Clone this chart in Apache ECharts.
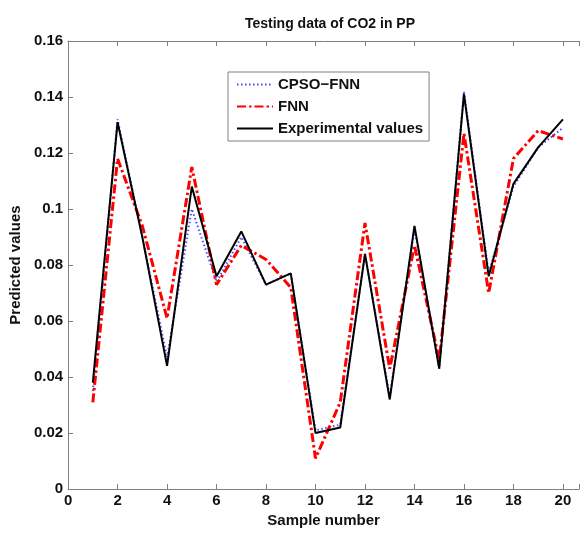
<!DOCTYPE html>
<html>
<head>
<meta charset="utf-8">
<script src="https://cdn.jsdelivr.net/npm/echarts@6/dist/echarts.min.js"></script>
<style>
html,body{margin:0;padding:0;background:#fff;}
#chart{width:582px;height:533px;}
</style>
</head>
<body>
<div id="chart"></div>
<script>
var samples = [1,2,3,4,5,6,7,8,9,10,11,12,13,14,15,16,17,18,19,20];
var cpsoFnn = [0.035,0.132,0.090,0.047,0.100,0.074,0.090,0.073,0.077,0.021,0.023,0.084,0.033,0.093,0.043,0.142,0.077,0.108,0.122,0.129];
var fnn = [0.031,0.118,0.094,0.061,0.115,0.073,0.087,0.082,0.072,0.011,0.031,0.095,0.043,0.087,0.046,0.127,0.070,0.118,0.128,0.125];
var experimental = [0.038,0.131,0.090,0.044,0.108,0.076,0.092,0.073,0.077,0.020,0.022,0.084,0.032,0.094,0.043,0.141,0.076,0.109,0.122,0.132];
var seriesNames = ['CPSO\u2212FNN','FNN','Experimental values'];
var xTicks = [0,2,4,6,8,10,12,14,16,18,20];
var yTicks = [0,0.02,0.04,0.06,0.08,0.1,0.12,0.14,0.16];

function pairs(vals){ return samples.map(function(s,i){ return [s, vals[i]]; }); }

var font = '"Liberation Sans", Arial, Helvetica, sans-serif';
var axisColor = '#808080';
var chart = echarts.init(document.getElementById('chart'), null, {renderer:'canvas'});
chart.setOption({
  animation: false,
  backgroundColor: '#ffffff',
  title: {
    text: 'Testing data of CO2 in PP',
    left: 325, top: 12, textAlign: 'center',
    textStyle: {fontFamily: font, fontWeight: 'bold', fontSize: 14, color: '#111'}
  },
  legend: {
    orient: 'vertical', left: 228, top: 72,
    padding: [5, 6, 5, 8], itemGap: 7, itemWidth: 36, itemHeight: 14,
    backgroundColor: '#fff', borderColor: '#808080', borderWidth: 1,
    itemStyle: {opacity: 0},
    textStyle: {fontFamily: font, fontWeight: 'bold', fontSize: 15, color: '#111'},
    data: seriesNames
  },
  grid: {left: 68, top: 41, right: 0, bottom: 36, containLabel: false},
  xAxis: [{
    type: 'value', min: 0, max: 20.65, interval: 2, position: 'bottom',
    name: 'Sample number', nameLocation: 'middle', nameGap: 19,
    nameTextStyle: {fontFamily: font, fontWeight: 'bold', fontSize: 15, color: '#111'},
    axisLine: {show: true, onZero: false, lineStyle: {color: axisColor, width: 1}},
    axisTick: {show: true, inside: true, length: 5, lineStyle: {color: axisColor}},
    axisLabel: {margin: 4, fontFamily: font, fontWeight: 'bold', fontSize: 15, color: '#111',
      formatter: function(v){ return xTicks.indexOf(Math.round(v*1000)/1000) >= 0 ? String(v) : ''; }},
    splitLine: {show: false}
  },{
    type: 'value', min: 0, max: 20.65, interval: 2, position: 'top',
    axisLine: {show: true, onZero: false, lineStyle: {color: axisColor, width: 1}},
    axisTick: {show: true, inside: true, length: 5, lineStyle: {color: axisColor}},
    axisLabel: {show: false}, splitLine: {show: false}
  }],
  yAxis: [{
    type: 'value', min: 0, max: 0.16, interval: 0.02,
    name: 'Predicted values', nameLocation: 'middle', nameGap: 37,
    nameTextStyle: {fontFamily: font, fontWeight: 'bold', fontSize: 15, color: '#111'},
    axisLine: {show: true, onZero: false, lineStyle: {color: axisColor, width: 1}},
    axisTick: {show: true, inside: true, length: 5, lineStyle: {color: axisColor}},
    axisLabel: {margin: 5, fontFamily: font, fontWeight: 'bold', fontSize: 15, color: '#111',
      formatter: function(v){ return String(Math.round(v*100)/100); }},
    splitLine: {show: false}
  }],
  series: [{
    name: seriesNames[0], type: 'line', data: pairs(cpsoFnn), symbol: 'none',
    lineStyle: {color: '#4a4aff', width: 2, type: [1.5, 2.5]}, itemStyle: {color: '#4a4aff'}, z: 2
  },{
    name: seriesNames[1], type: 'line', data: pairs(fnn), symbol: 'none',
    lineStyle: {color: '#ff0000', width: 3, type: [9, 3, 2.5, 3]}, itemStyle: {color: '#ff0000'}, z: 3
  },{
    name: seriesNames[2], type: 'line', data: pairs(experimental), symbol: 'none',
    lineStyle: {color: '#000000', width: 2}, itemStyle: {color: '#000000'}, z: 4
  }]
});
</script>
</body>
</html>
